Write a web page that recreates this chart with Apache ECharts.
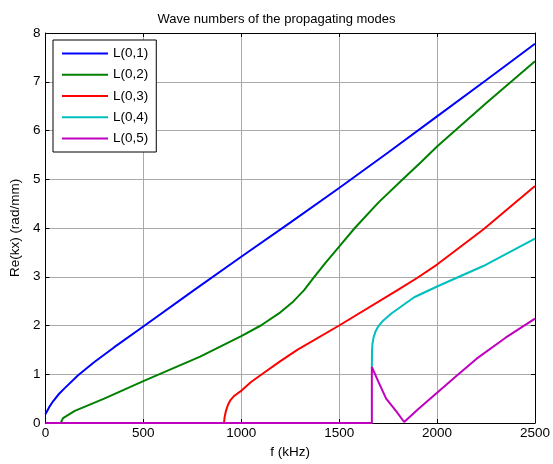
<!DOCTYPE html>
<html>
<head>
<meta charset="utf-8">
<script src="https://cdn.jsdelivr.net/npm/echarts@6/dist/echarts.min.js"></script>
<style>
  html, body { margin: 0; padding: 0; background: #fff; }
  #chart { width: 553px; height: 464px; }
</style>
</head>
<body>
<div id="chart"></div>
<script>
// 各模态数据 (f kHz, Re(kx) rad/mm)
const modeNames = ['L(0,1)', 'L(0,2)', 'L(0,3)', 'L(0,4)', 'L(0,5)']
const modeColors = ['#0000ff', '#008000', '#ff0000', '#00bfbf', '#bf00bf']

const f01 = [0, 20, 40, 70, 100, 167, 250, 350, 500, 750, 1000, 1250, 1500, 1750, 2000, 2250, 2500]
const k01 = [0.18, 0.33, 0.45, 0.6, 0.72, 0.98, 1.25, 1.55, 1.98, 2.7, 3.41, 4.11, 4.82, 5.55, 6.29, 7.03, 7.78]

const f02 = [78, 90, 150, 300, 500, 790, 1000, 1100, 1200, 1260, 1320, 1370, 1429, 1500, 1580, 1700, 1825, 1920, 2000, 2250, 2500]
const k02 = [0, 0.1, 0.25, 0.5, 0.86, 1.36, 1.78, 2.0, 2.27, 2.47, 2.72, 2.98, 3.28, 3.62, 4.0, 4.52, 5.0, 5.36, 5.67, 6.56, 7.42]

const f03 = [912, 915, 922, 932, 945, 965, 1003, 1050, 1109, 1200, 1286, 1500, 1800, 1900, 2000, 2236, 2500]
const k03 = [0, 0.12, 0.25, 0.37, 0.47, 0.56, 0.67, 0.84, 1.01, 1.27, 1.5, 2.0, 2.73, 2.98, 3.25, 3.97, 4.86]

const f04 = [1667, 1668, 1670, 1676, 1685, 1698, 1720, 1765, 1883, 2000, 2236, 2500]
const k04 = [1.15, 1.5, 1.62, 1.76, 1.87, 1.97, 2.08, 2.24, 2.58, 2.8, 3.22, 3.78]

const f05 = [0, 1667, 1667, 1700, 1740, 1790, 1832, 1900, 2000, 2100, 2202, 2350, 2500]
const k05 = [0, 0, 1.15, 0.85, 0.5, 0.25, 0.02, 0.27, 0.62, 0.97, 1.32, 1.75, 2.14]

const xTicks = [0, 500, 1000, 1500, 2000, 2500]
const yTicks = [0, 1, 2, 3, 4, 5, 6, 7, 8]

const allF = [f01, f02, f03, f04, f05]
const allK = [k01, k02, k03, k04, k05]

const myChart = echarts.init(document.getElementById('chart'))
const font = 'Arial, "Liberation Sans", sans-serif'

const series = modeNames.map((name, i) => ({
  name: name,
  type: 'line',
  symbol: 'none',
  data: allF[i].map((f, j) => [f, allK[i][j]]),
  lineStyle: { color: modeColors[i], width: 2 },
  itemStyle: { color: modeColors[i] },
  z: 10 + i
}))

const option = {
  animation: false,
  title: {
    text: 'Wave numbers of the propagating modes',
    left: 'center',
    top: 8,
    textStyle: { fontFamily: font, fontSize: 13, fontWeight: 'normal', color: '#000' }
  },
  legend: {
    orient: 'vertical',
    left: 53,
    top: 40,
    data: modeNames.map(n => ({ name: n, icon: 'rect' })),
    itemWidth: 46,
    itemHeight: 2,
    itemGap: 5.3,
    itemTextGap: 5,
    padding: [5.4, 8, 5.4, 9],
    backgroundColor: '#fff',
    borderColor: '#000',
    borderWidth: 1,
    borderRadius: 0,
    textStyle: { fontFamily: font, fontSize: 13.5, lineHeight: 16, color: '#000' }
  },
  grid: { left: 43.5, right: 14, top: 33, bottom: 41 },
  xAxis: [
    {
      type: 'value',
      min: 0,
      max: 2500,
      interval: 500,
      name: 'f (kHz)',
      nameLocation: 'middle',
      nameGap: 18,
      nameTextStyle: { fontFamily: font, fontSize: 13.5, color: '#000' },
      axisLine: { onZero: false, lineStyle: { color: '#000', width: 1 } },
      axisTick: { inside: true, length: 4, lineStyle: { color: '#000' } },
      axisLabel: { fontFamily: font, fontSize: 13.5, color: '#000', margin: 3,
        formatter: v => xTicks.includes(v) ? String(v) : '' },
      splitLine: { show: true, lineStyle: { color: '#aaaaaa', width: 1 } }
    },
    {
      type: 'value',
      position: 'top',
      min: 0,
      max: 2500,
      interval: 500,
      axisLine: { onZero: false, lineStyle: { color: '#000', width: 1 } },
      axisTick: { inside: true, length: 4, lineStyle: { color: '#000' } },
      axisLabel: { show: false },
      splitLine: { show: false }
    }
  ],
  yAxis: [
    {
      type: 'value',
      min: 0,
      max: 8,
      interval: 1,
      name: 'Re(kx) (rad/mm)',
      nameLocation: 'middle',
      nameGap: 21,
      nameTextStyle: { fontFamily: font, fontSize: 13.5, color: '#000' },
      axisLine: { onZero: false, lineStyle: { color: '#000', width: 1 } },
      axisTick: { inside: true, length: 4, lineStyle: { color: '#000' } },
      axisLabel: { fontFamily: font, fontSize: 13.5, color: '#000', margin: 5,
        formatter: v => yTicks.includes(v) ? String(v) : '' },
      splitLine: { show: true, lineStyle: { color: '#aaaaaa', width: 1 } }
    },
    {
      type: 'value',
      position: 'right',
      min: 0,
      max: 8,
      interval: 1,
      axisLine: { onZero: false, lineStyle: { color: '#000', width: 1 } },
      axisTick: { inside: true, length: 4, lineStyle: { color: '#000' } },
      axisLabel: { show: false },
      splitLine: { show: false }
    }
  ],
  series: series
}

myChart.setOption(option)
</script>
</body>
</html>
